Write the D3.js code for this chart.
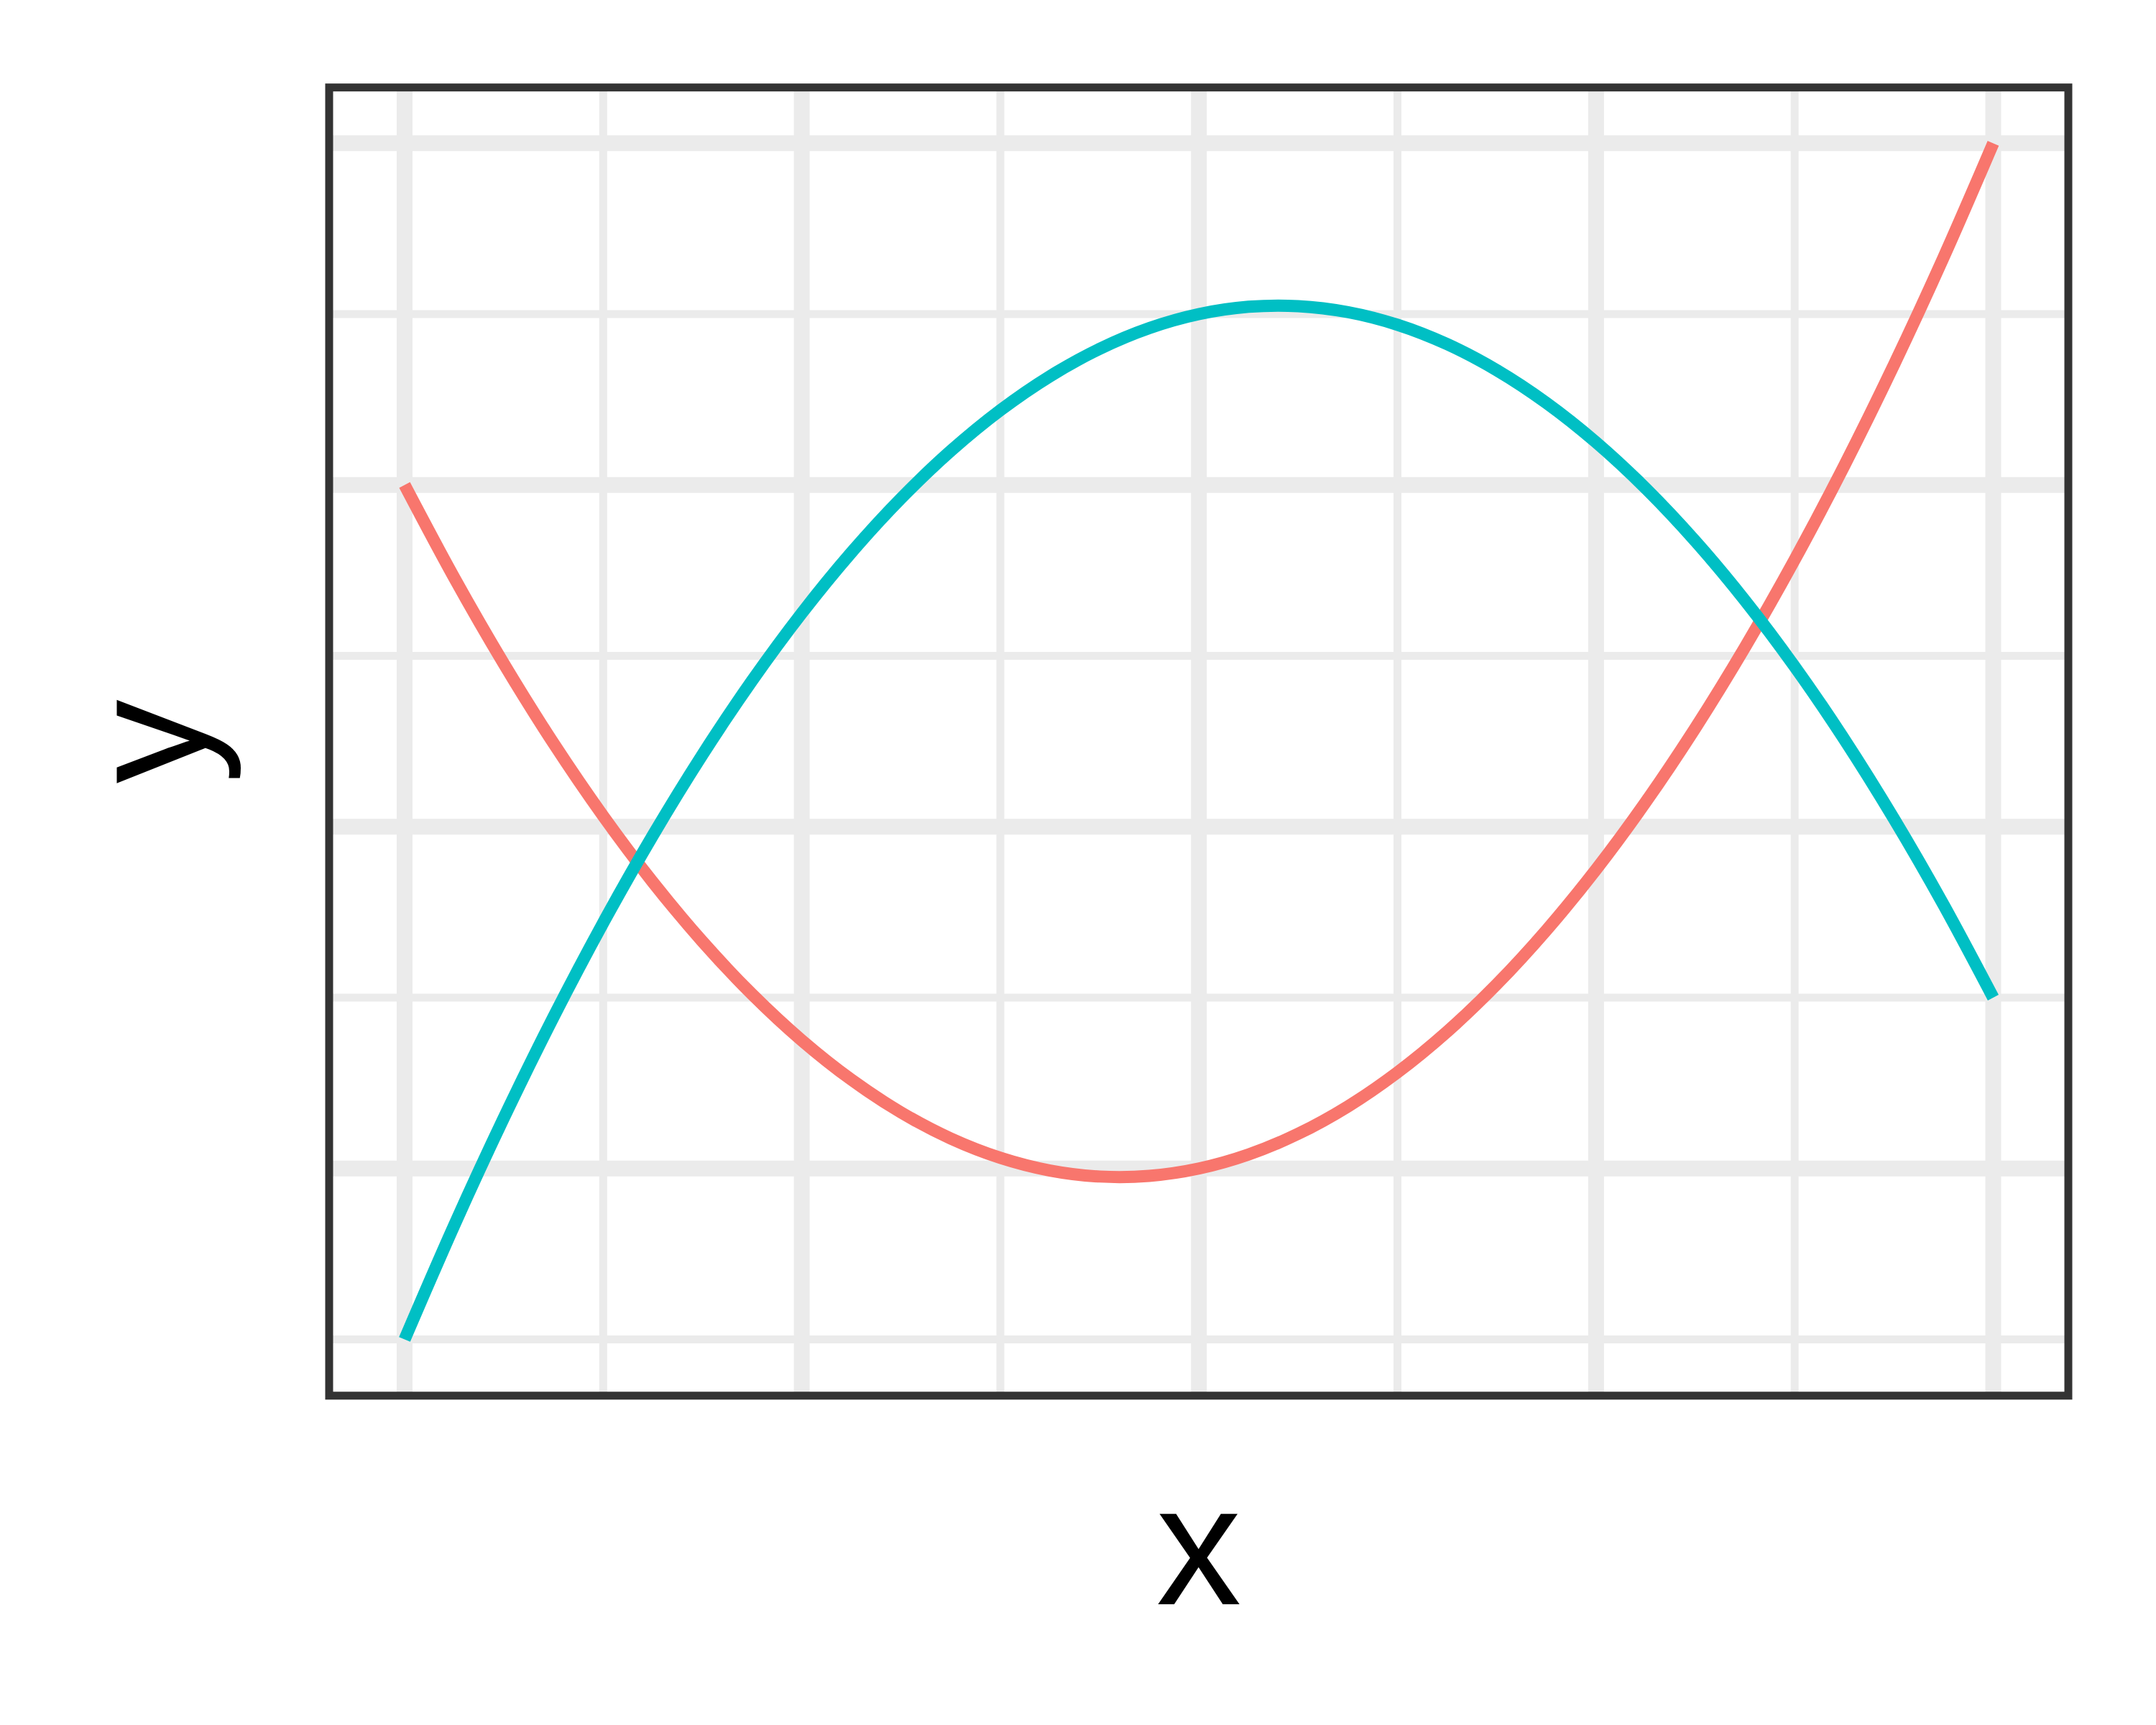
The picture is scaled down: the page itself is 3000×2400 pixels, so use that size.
<!DOCTYPE html>
<html>
<head>
<meta charset="utf-8">
<script src="https://cdn.jsdelivr.net/npm/d3@7"></script>
<style>
  html, body { margin: 0; padding: 0; background: #ffffff; }
  svg { display: block; }
</style>
</head>
<body>
<svg id="chart" width="3000" height="2400"></svg>
<script>
// ---- data ----
const xValues = [-2, -1.875, -1.75, -1.625, -1.5, -1.375, -1.25, -1.125, -1, -0.875, -0.75, -0.625, -0.5, -0.375, -0.25, -0.125,
                 0, 0.125, 0.25, 0.375, 0.5, 0.625, 0.75, 0.875, 1, 1.125, 1.25, 1.375, 1.5, 1.625, 1.75, 1.875, 2];
const redValues = [2.0, 1.7285, 1.4766, 1.2441, 1.0313, 0.8379, 0.6641, 0.5098, 0.375, 0.2598, 0.1641, 0.0879, 0.0313, -0.0059, -0.0234, -0.0215,
                   0.0, 0.041, 0.1016, 0.1816, 0.2813, 0.4004, 0.5391, 0.6973, 0.875, 1.0723, 1.2891, 1.5254, 1.7813, 2.0566, 2.3516, 2.666, 3.0];
const cyanValues = [-0.5, -0.166, 0.1484, 0.4434, 0.7188, 0.9746, 1.2109, 1.4277, 1.625, 1.8027, 1.9609, 2.0996, 2.2188, 2.3184, 2.3984, 2.459,
                    2.5, 2.5215, 2.5234, 2.5059, 2.4688, 2.4121, 2.3359, 2.2402, 2.125, 1.9902, 1.8359, 1.6621, 1.4688, 1.2559, 1.0234, 0.7715, 0.5];
const xMajorTicks = [-2, -1, 0, 1, 2];
const xMinorTicks = [-1.5, -0.5, 0.5, 1.5];
const yMajorTicks = [0, 1, 2, 3];
const yMinorTicks = [-0.5, 0.5, 1.5, 2.5];
const xLabel = "x";
const yLabel = "y";

// ---- layout ----
const panel = { left: 458, right: 2878, top: 121.7, bottom: 1941.8 };
const svg = d3.select("#chart");

const x = d3.scaleLinear().domain([-2, 2]).range([563, 2773.5]);
const y = d3.scaleLinear().domain([-0.5, 3]).range([1863.5, 199.3]);

const g = svg.append("g");

svg.append("defs").append("clipPath").attr("id", "panelClip")
  .append("rect")
  .attr("x", panel.left).attr("y", panel.top)
  .attr("width", panel.right - panel.left).attr("height", panel.bottom - panel.top);

const grid = g.append("g").attr("clip-path", "url(#panelClip)");

// minor grid
grid.selectAll("line.vminor").data(xMinorTicks).join("line")
  .attr("x1", d => x(d)).attr("x2", d => x(d))
  .attr("y1", panel.top).attr("y2", panel.bottom)
  .attr("stroke", "#EBEBEB").attr("stroke-width", 11);
grid.selectAll("line.hminor").data(yMinorTicks).join("line")
  .attr("y1", d => y(d)).attr("y2", d => y(d))
  .attr("x1", panel.left).attr("x2", panel.right)
  .attr("stroke", "#EBEBEB").attr("stroke-width", 11);
// major grid
grid.selectAll("line.vmajor").data(xMajorTicks).join("line")
  .attr("x1", d => x(d)).attr("x2", d => x(d))
  .attr("y1", panel.top).attr("y2", panel.bottom)
  .attr("stroke", "#EBEBEB").attr("stroke-width", 22);
grid.selectAll("line.hmajor").data(yMajorTicks).join("line")
  .attr("y1", d => y(d)).attr("y2", d => y(d))
  .attr("x1", panel.left).attr("x2", panel.right)
  .attr("stroke", "#EBEBEB").attr("stroke-width", 22);

// lines
const line = d3.line().x(d => x(d[0])).y(d => y(d[1])).curve(d3.curveCatmullRom.alpha(0.5));
const series = [
  { values: redValues, color: "#F8766D" },
  { values: cyanValues, color: "#00BFC4" }
];
const lines = g.append("g").attr("clip-path", "url(#panelClip)");
series.forEach(s => {
  lines.append("path")
    .datum(xValues.map((xv, i) => [xv, s.values[i]]))
    .attr("d", line)
    .attr("fill", "none")
    .attr("stroke", s.color)
    .attr("stroke-width", 17)
    .attr("stroke-linecap", "butt")
    .attr("stroke-linejoin", "round");
});

// panel border
g.append("rect")
  .attr("x", panel.left).attr("y", panel.top)
  .attr("width", panel.right - panel.left).attr("height", panel.bottom - panel.top)
  .attr("fill", "none").attr("stroke", "#333333").attr("stroke-width", 11);

// axis titles
g.append("text")
  .attr("x", (panel.left + panel.right) / 2).attr("y", 2232)
  .attr("text-anchor", "middle")
  .attr("font-family", "Liberation Sans, Arial, sans-serif")
  .attr("font-size", 237)
  .attr("fill", "#000000")
  .text(xLabel);

g.append("text")
  .attr("transform", `translate(286, ${(panel.top + panel.bottom) / 2}) rotate(-90)`)
  .attr("text-anchor", "middle")
  .attr("font-family", "Liberation Sans, Arial, sans-serif")
  .attr("font-size", 234)
  .attr("fill", "#000000")
  .text(yLabel);
</script>
</body>
</html>
